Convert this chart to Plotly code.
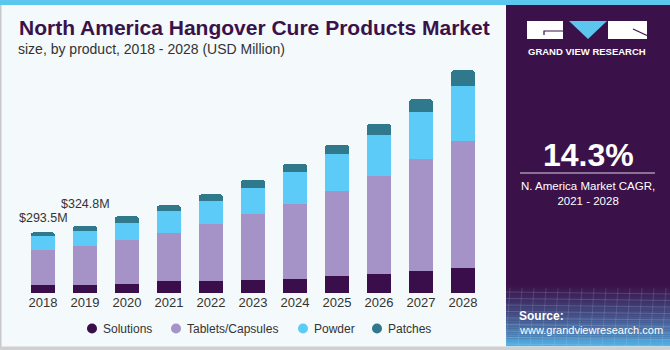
import plotly.graph_objects as go

# ---------------- data ----------------
years = ["2018", "2019", "2020", "2021", "2022", "2023", "2024", "2025", "2026", "2027", "2028"]
solutions = [40.6, 40.0, 45.4, 56.6, 56.6, 61.4, 69.6, 82.2, 93.8, 108.3, 122.8]
tablets = [165.8, 185.0, 212.7, 233.5, 279.0, 319.0, 360.7, 411.0, 473.8, 538.0, 612.0]
powder = [67.7, 77.0, 82.2, 106.4, 109.3, 129.0, 153.3, 178.9, 196.3, 228.7, 267.9]
patches = [19.4, 22.8, 30.5, 27.6, 32.4, 38.7, 42.0, 45.4, 55.1, 61.4, 74.0]
series_names = ["Solutions", "Tablets/Capsules", "Powder", "Patches"]
value_label_years = ["2018", "2019"]
value_label_texts = ["$293.5M", "$324.8M"]
cagr_text = "14.3%"
cagr_caption = "N. America Market CAGR,<br>2021 - 2028"

# ---------------- styles ----------------
W, H = 670, 350
PL, PR, PT, PB = 22, 484, 60, 293  # plot area in px
colors = ["#3A0E4A", "#A592C6", "#5DCBF7", "#30788B"]
BG = "#F4F9FC"
PANEL = "#3A1249"
SANS = "Liberation Sans, Arial"


def px(x):
    return (x - PL) / (PR - PL)


def py(y):
    return (PB - y) / (PB - PT)


series = [solutions, tablets, powder, patches]
fig = go.Figure()
for name, vals, col in zip(series_names, series, colors):
    fig.add_trace(go.Bar(x=years, y=vals, name=name, marker=dict(color=col, line=dict(width=0)),
                         showlegend=False))

totals = [sum(v) for v in zip(*series)]
annotations = []
shifts = [5, 13]
for yr, txt, sh in zip(value_label_years, value_label_texts, shifts):
    i = years.index(yr)
    annotations.append(dict(x=i, y=totals[i], xref="x", yref="y", text=txt, showarrow=False,
                            yanchor="bottom", yshift=sh, font=dict(family=SANS, size=12.5, color="#333333")))

shapes = []
# right panel
shapes.append(dict(type="rect", xref="paper", yref="paper", x0=px(506), x1=px(670), y0=py(346), y1=py(0),
                   fillcolor=PANEL, line=dict(width=0), layer="below"))
# gradient at bottom of panel
n = 32
c0 = (0x3A, 0x12, 0x49)
c1 = (0x52, 0xB2, 0xE6)
g0, g1 = 283, 346
for k in range(n):
    t = (k + 0.5) / n
    t2 = t ** 1.3
    c = tuple(int(a + (b - a) * t2) for a, b in zip(c0, c1))
    y0 = g0 + (g1 - g0) * k / n
    y1 = g0 + (g1 - g0) * (k + 1) / n
    shapes.append(dict(type="rect", xref="paper", yref="paper", x0=px(506), x1=px(670), y0=py(y1 + 0.3), y1=py(y0),
                       fillcolor="rgb(%d,%d,%d)" % c, line=dict(width=0), layer="below"))
# faint grid lines in gradient
for k in range(9):
    yy = 292 + k * 6.5
    shapes.append(dict(type="line", xref="paper", yref="paper", x0=px(506), x1=px(670), y0=py(yy), y1=py(yy + 2),
                       line=dict(color="rgba(200,220,255,0.18)", width=1), layer="below"))
for k in range(14):
    xx = 510 + k * 12
    shapes.append(dict(type="line", xref="paper", yref="paper", x0=px(xx), x1=px(xx - 4), y0=py(288), y1=py(346),
                       line=dict(color="rgba(200,220,255,0.15)", width=1), layer="below"))
# top strip
shapes.append(dict(type="rect", xref="paper", yref="paper", x0=px(0), x1=px(670), y0=py(5), y1=py(0),
                   fillcolor="#5BC6EE", line=dict(width=0)))
# left border and bottom border
shapes.append(dict(type="rect", xref="paper", yref="paper", x0=px(0), x1=px(1.5), y0=py(350), y1=py(5),
                   fillcolor="#C8C8C8", line=dict(width=0)))
shapes.append(dict(type="rect", xref="paper", yref="paper", x0=px(0), x1=px(670), y0=py(350), y1=py(346.5),
                   fillcolor="#D0D0D0", line=dict(width=0)))
# CAGR separator line
shapes.append(dict(type="line", xref="paper", yref="paper", x0=px(520), x1=px(655), y0=py(173), y1=py(173),
                   line=dict(color="#D9D2E0", width=1.2)))
# logo
shapes.append(dict(type="rect", xref="paper", yref="paper", x0=px(527), x1=px(563), y0=py(39), y1=py(21),
                   fillcolor="white", line=dict(width=0)))
shapes.append(dict(type="path", xref="paper", yref="paper",
                   path="M %f,%f L %f,%f L %f,%f" % (px(563), py(31), px(544), py(31), px(544), py(35)),
                   line=dict(color=PANEL, width=1.2)))
shapes.append(dict(type="path", xref="paper", yref="paper",
                   path="M %f,%f L %f,%f L %f,%f Z" % (px(569), py(21), px(607), py(21), px(588), py(39)),
                   fillcolor="#5BC6EE", line=dict(width=0)))
shapes.append(dict(type="rect", xref="paper", yref="paper", x0=px(608), x1=px(647), y0=py(39), y1=py(21),
                   fillcolor="white", line=dict(width=0)))
shapes.append(dict(type="path", xref="paper", yref="paper",
                   path="M %f,%f L %f,%f L %f,%f" % (px(633), py(29), px(647), py(35.5), px(647), py(35.5)),
                   line=dict(color=PANEL, width=1.2)))

# legend (circle + label)
leg_marker_x = [92, 176, 303, 377]
leg_y = 328.5
for mx, name, col in zip(leg_marker_x, series_names, colors):
    shapes.append(dict(type="circle", xref="paper", yref="paper", x0=px(mx - 5), x1=px(mx + 5),
                       y0=py(leg_y + 5), y1=py(leg_y - 5), fillcolor=col, line=dict(width=0)))
    annotations.append(dict(x=px(mx + 9), y=py(leg_y), xref="paper", yref="paper", text=name, showarrow=False,
                            xanchor="left", yanchor="middle", font=dict(family=SANS, size=12, color="#333333")))

# title texts
annotations.append(dict(x=px(17), y=py(28), xref="paper", yref="paper",
                        text="<b>North America Hangover Cure Products Market</b>", showarrow=False,
                        xanchor="left", yanchor="middle", font=dict(family=SANS, size=21, color="#3A1249")))
annotations.append(dict(x=px(16), y=py(49), xref="paper", yref="paper",
                        text="size, by product, 2018 - 2028 (USD Million)", showarrow=False,
                        xanchor="left", yanchor="middle", font=dict(family=SANS, size=14, color="#333333")))
# panel texts
annotations.append(dict(x=px(587), y=py(51), xref="paper", yref="paper", text="<b>GRAND VIEW RESEARCH</b>",
                        showarrow=False, xanchor="center", yanchor="middle",
                        font=dict(family=SANS, size=9.5, color="white")))
annotations.append(dict(x=px(588), y=py(155), xref="paper", yref="paper", text="<b>%s</b>" % cagr_text,
                        showarrow=False, xanchor="center", yanchor="middle",
                        font=dict(family=SANS, size=32, color="white")))
annotations.append(dict(x=px(588), y=py(193), xref="paper", yref="paper", text=cagr_caption,
                        showarrow=False, xanchor="center", yanchor="middle",
                        font=dict(family=SANS, size=11.5, color="white")))
annotations.append(dict(x=px(517), y=py(316), xref="paper", yref="paper", text="<b>Source:</b>",
                        showarrow=False, xanchor="left", yanchor="middle",
                        font=dict(family=SANS, size=12, color="white")))
annotations.append(dict(x=px(517), y=py(330), xref="paper", yref="paper", text="www.grandviewresearch.com",
                        showarrow=False, xanchor="left", yanchor="middle",
                        font=dict(family=SANS, size=11, color="white")))

ymax = (PB - PT) * 293.5 / 60.7
fig.update_layout(
    width=W, height=H,
    margin=dict(l=PL, r=W - PR, t=PT, b=H - PB, pad=0),
    barmode="stack", bargap=0.43, barcornerradius=3,
    paper_bgcolor=BG, plot_bgcolor=BG,
    showlegend=False,
    xaxis=dict(type="category", range=[-0.5, len(years) - 0.5], showgrid=False, zeroline=False,
               showline=False, ticks="", tickfont=dict(family=SANS, size=13, color="#333333")),
    yaxis=dict(range=[0, ymax], showgrid=False, zeroline=False, showline=False, showticklabels=False),
    shapes=shapes, annotations=annotations,
)
fig.write_html("out.html")
